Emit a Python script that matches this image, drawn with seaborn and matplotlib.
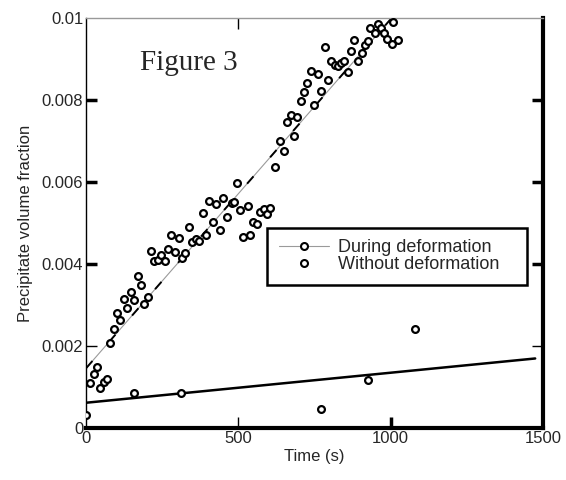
import pandas as pd
import matplotlib
matplotlib.use("Agg")
import matplotlib.pyplot as plt
import seaborn as sns
from matplotlib.lines import Line2D

# ---- data ----
during_time = [13, 26, 37, 46, 59, 70, 79, 92, 103, 112, 125, 136, 148, 158, 172,
               182, 190, 204, 213, 223, 235, 246, 260, 270, 280, 293, 306, 315, 326,
               339, 349, 361, 372, 383, 394, 405, 418, 427, 440, 451, 462, 478, 486,
               497, 505, 516, 531, 538, 547, 562, 571, 584, 595, 604, 620, 637, 651,
               661, 672, 683, 692, 706, 716, 727, 739, 748, 761, 773, 784, 795, 804,
               817, 828, 837, 847, 861, 870, 881, 894, 906, 917, 927, 934, 949, 959,
               968, 978, 990, 1005, 1009, 1025]
during_frac = [0.00109, 0.00131, 0.00150, 0.00099, 0.00113, 0.00120, 0.00208, 0.00242,
               0.00280, 0.00263, 0.00315, 0.00294, 0.00332, 0.00312, 0.00372, 0.00350,
               0.00302, 0.00320, 0.00431, 0.00408, 0.00410, 0.00422, 0.00408, 0.00438,
               0.00472, 0.00429, 0.00465, 0.00415, 0.00428, 0.00490, 0.00454, 0.00461,
               0.00456, 0.00524, 0.00472, 0.00555, 0.00502, 0.00546, 0.00483, 0.00562,
               0.00514, 0.00550, 0.00551, 0.00599, 0.00533, 0.00467, 0.00543, 0.00472,
               0.00502, 0.00497, 0.00528, 0.00534, 0.00522, 0.00536, 0.00637, 0.00701,
               0.00676, 0.00746, 0.00763, 0.00713, 0.00758, 0.00798, 0.00819, 0.00841,
               0.00872, 0.00789, 0.00865, 0.00823, 0.00929, 0.00850, 0.00896, 0.00887,
               0.00883, 0.00890, 0.00896, 0.00869, 0.00919, 0.00946, 0.00896, 0.00916,
               0.00935, 0.00945, 0.00975, 0.00963, 0.00985, 0.00975, 0.00964, 0.00950,
               0.00936, 0.00990, 0.00948]

without_time = [0, 156, 313, 771, 927, 1080]
without_frac = [0.00031, 0.00086, 0.00086, 0.00047, 0.00117, 0.00241]

# straight-line fits shown in the figure (end points)
during_fit_time = [0, 1003]
during_fit_frac = [0.00146, 0.0100]
without_fit_time = [0, 1475]
without_fit_frac = [0.00062, 0.00170]

x_ticks = [0, 500, 1000, 1500]
y_ticks = [0, 0.002, 0.004, 0.006, 0.008, 0.01]
y_tick_labels = ["0", "0.002", "0.004", "0.006", "0.008", "0.01"]
legend_labels = ["During deformation", "Without deformation"]

during = pd.DataFrame({"time": during_time, "frac": during_frac})
without = pd.DataFrame({"time": without_time, "frac": without_frac})
fit_d = pd.DataFrame({"time": during_fit_time, "frac": during_fit_frac})
fit_w = pd.DataFrame({"time": without_fit_time, "frac": without_fit_frac})

sns.set_style("white")
plt.rcParams["font.family"] = ["Liberation Sans", "DejaVu Sans"]

fig = plt.figure(figsize=(5.66, 4.80), dpi=100)
ax = fig.add_axes([0.152, 0.108, 0.807, 0.854])

# fit lines: thin grey with sparse black dashes on top, solid black for the other
sns.lineplot(data=fit_d, x="time", y="frac", color="#9a9a9a", lw=0.8, ax=ax)
sns.lineplot(data=fit_d, x="time", y="frac", color="black", lw=1.4,
             ax=ax).lines[-1].set_dashes((5, 13))
sns.lineplot(data=fit_w, x="time", y="frac", color="black", lw=1.8, ax=ax)

pts = dict(marker="o", s=24, facecolor="white", edgecolor="black", linewidth=1.6, zorder=5)
sns.scatterplot(data=during, x="time", y="frac", ax=ax, **pts)
sns.scatterplot(data=without, x="time", y="frac", ax=ax, **pts)

ax.set_xlim(0, 1500)
ax.set_ylim(0, 0.01)
ax.set_xticks(x_ticks)
ax.set_xticklabels([str(t) for t in x_ticks], fontsize=12)
ax.set_yticks(y_ticks)
ax.set_yticklabels(y_tick_labels, fontsize=12)
ax.set_xlabel("Time (s)", fontsize=12, labelpad=2)
ax.set_ylabel("Precipitate volume fraction", fontsize=12, labelpad=6)

# spines: thin left/top, heavy right/bottom
for side in ["left", "top", "right", "bottom"]:
    ax.spines[side].set_color("black")
ax.spines["left"].set_linewidth(1.0)
ax.spines["top"].set_linewidth(1.0)
ax.spines["top"].set_color("#999999")
ax.spines["right"].set_linewidth(3.0)
ax.spines["bottom"].set_linewidth(3.0)

ax.tick_params(direction="in", left=True, right=True, bottom=True, top=True,
               length=8, width=2.5, color="black", pad=2)
for i, t in enumerate(ax.yaxis.get_major_ticks()):
    if i in (0, len(y_ticks) - 1):
        t.tick1line.set_visible(False)
        t.tick2line.set_visible(False)
    elif i == 1:
        # the 0.002 ticks are faint grey in the original
        for ln in (t.tick1line, t.tick2line):
            ln.set_color("#aaaaaa")
            ln.set_markeredgewidth(1.0)
for i, t in enumerate(ax.xaxis.get_major_ticks()):
    if i in (0, len(x_ticks) - 1):
        t.tick1line.set_visible(False)
        t.tick2line.set_visible(False)
    elif i == 1:
        t.tick1line.set_markeredgewidth(1.0)
        t.tick2line.set_markeredgewidth(1.0)
    else:
        t.tick2line.set_visible(False)

ax.text(177, 0.00873, "Figure 3", family=["Liberation Serif", "DejaVu Serif"],
        fontsize=21, va="baseline")

handles = [
    Line2D([], [], color="#9a9a9a", lw=0.8, marker="o", ms=5, mfc="white",
           mec="black", mew=1.5),
    Line2D([], [], ls="none", marker="o", ms=5, mfc="white", mec="black", mew=1.5),
]
leg = ax.legend(handles, legend_labels,
                loc="lower left", bbox_to_anchor=(0.396, 0.349, 0.569, 0.136),
                mode="expand", borderaxespad=0, fontsize=13,
                frameon=True, fancybox=False, framealpha=1, labelspacing=0.0,
                handlelength=2.8, handletextpad=0.5, borderpad=0.65)
leg.get_frame().set_edgecolor("black")
leg.get_frame().set_linewidth(1.8)

fig.savefig("out.png", dpi=100)
